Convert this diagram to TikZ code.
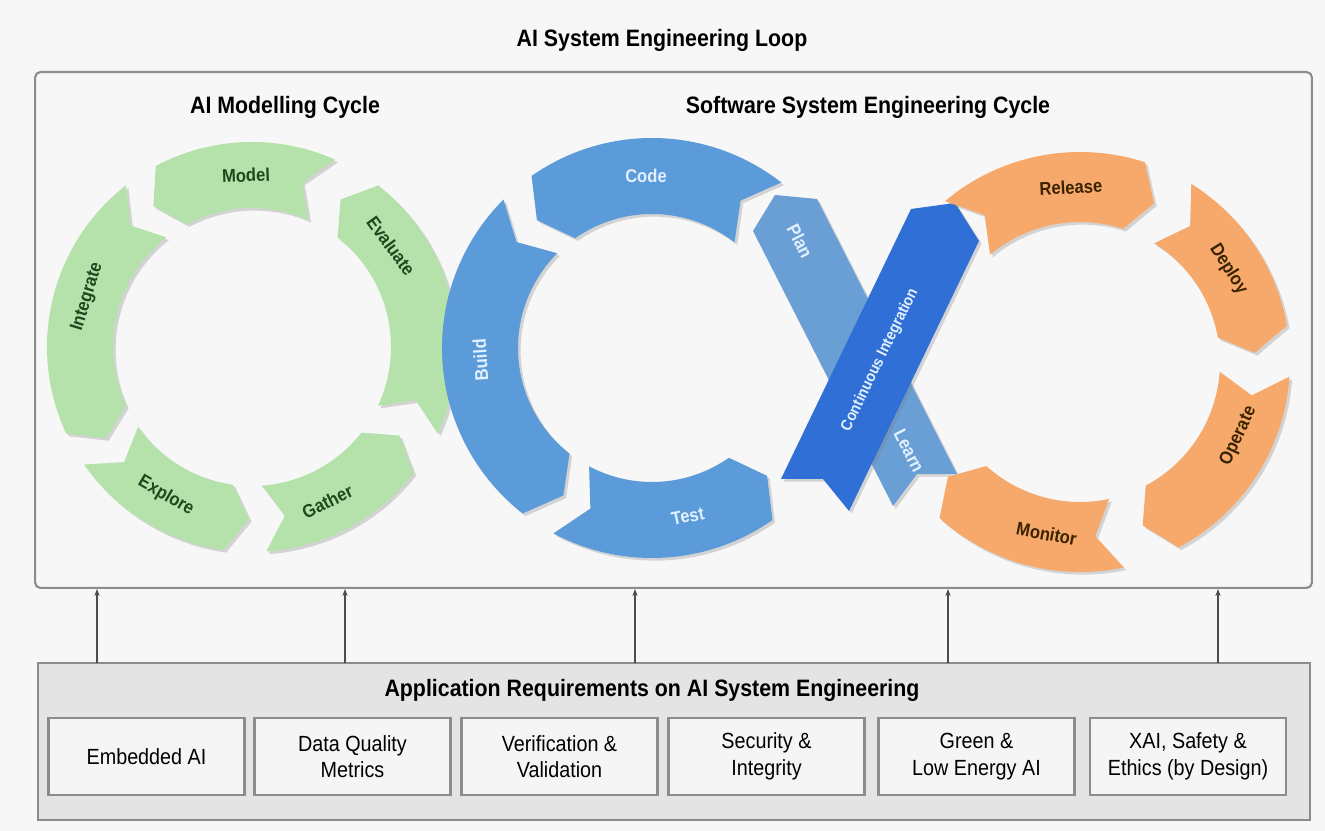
\documentclass[tikz,border=0pt]{standalone}
\usepackage{fontspec}
\setmainfont{Liberation Sans}[FakeStretch=0.9]
\usetikzlibrary{arrows.meta, calc, shadows}

\definecolor{bgcol}{HTML}{F7F7F7}
\definecolor{modgreen}{HTML}{B4E2AA}
\definecolor{modtext}{HTML}{1D4A1D}
\definecolor{swblue}{HTML}{5B9BDA}
\definecolor{swlight}{HTML}{6A9FD6}
\definecolor{swdark}{HTML}{2F6FD6}
\definecolor{swtext}{HTML}{E3F0FF}
\definecolor{opsorange}{HTML}{F6A96B}
\definecolor{opstext}{HTML}{3B2300}
\definecolor{framegray}{HTML}{8C8C8C}
\definecolor{reqgray}{HTML}{E4E4E4}
\definecolor{reqfill}{HTML}{F5F5F5}

% ring piece: center, outer r, inner r, mid r, from, to, tip offset, style
\newcommand{\ringseg}[8]{%
  \path[#8] ($(#1)+(#5:#2)$) arc[start angle=#5, end angle=#6, radius=#2]
    -- ($(#1)+(#6#7:#4)$) -- ($(#1)+(#6:#3)$)
    arc[start angle=#6, end angle=#5, radius=#3]
    -- ($(#1)+(#5#7:#4)$) -- cycle;}

\begin{document}
\begin{tikzpicture}[x=0.02cm, y=0.02cm,
    seg/.style={drop shadow={opacity=0.3, shadow xshift=1.5pt, shadow yshift=-1.5pt}},
    greenseg/.style={seg, fill=modgreen},
    blueseg/.style={seg, fill=swblue},
    orangeseg/.style={seg, fill=opsorange},
    seglabel/.style={font=\fontsize{10.5}{12}\selectfont\bfseries, inner sep=0pt},
    headline/.style={font=\fontsize{13.5}{16}\selectfont\bfseries},
    reqitem/.style={draw=framegray, line width=1.5pt, fill=reqfill, minimum width=3.92cm,
      minimum height=1.54cm, align=center, font=\fontsize{12.5}{15}\selectfont},
    reqarrow/.style={-{Stealth[length=4pt, width=3pt]}, draw=black!70, line width=0.8pt}]

	\fill[bgcol] (0,0) rectangle (1325,831);
	\useasboundingbox (0,0) rectangle (1325,831);

	% loop frame
	\node[headline] (looptitle) at (662,791) {AI System Engineering Loop};
	\node[draw=framegray, line width=1.2pt, rounded corners=3pt, minimum width=25.54cm, minimum height=10.32cm] (loop) at (673.5,501) {};
	\node[headline] (aititle) at (285,724) {AI Modelling Cycle};
	\node[headline] (swtitle) at (868,724) {Software System Engineering Cycle};

	\coordinate (gc) at (252,484);
	\coordinate (bc) at (652,483);
	\coordinate (oc) at (1080,469);

	% AI modelling cycle
	\ringseg{gc}{205}{139}{172}{-25}{52}{+7}{greenseg}
	\ringseg{gc}{205}{139}{172}{66}{118}{+7}{greenseg}
	\ringseg{gc}{205}{139}{172}{128}{205}{+7}{greenseg}
	\ringseg{gc}{205}{139}{172}{215}{262}{+7}{greenseg}
	\ringseg{gc}{205}{139}{172}{274}{322}{+7}{greenseg}
	\node[seglabel, text=modtext, rotate=-54] (levaluate) at ($(gc)+(36:172)$) {Evaluate};
	\node[seglabel, text=modtext, rotate=2] (lmodel) at ($(gc)+(92:172)$) {Model};
	\node[seglabel, text=modtext, rotate=73] (lintegrate) at ($(gc)+(163:172)$) {Integrate};
	\node[seglabel, text=modtext, rotate=-30] (lexplore) at ($(gc)+(240:172)$) {Explore};
	\node[seglabel, text=modtext, rotate=26] (lgather) at ($(gc)+(296:172)$) {Gather};

	% software cycle, left loop
	\ringseg{bc}{210}{134}{172}{52}{125}{+7}{blueseg}
	\ringseg{bc}{210}{134}{172}{135}{232}{+7}{blueseg}
	\ringseg{bc}{210}{134}{172}{242}{305}{+7}{blueseg}
	\node[seglabel, text=swtext, rotate=0] (lcode) at ($(bc)+(92:172)$) {Code};
	\node[seglabel, text=swtext, rotate=94] (lbuild) at ($(bc)+(184:172)$) {Build};
	\node[seglabel, text=swtext, rotate=12] (ltest) at ($(bc)+(282:172)$) {Test};

	% crossing
	\path[seg, fill=swlight] (775,636) -- (817,632) -- (957,357) -- (917,357) -- (893,325) -- (753,600) -- cycle;
	\node[seglabel, text=swtext, rotate=-63] (lplan) at (800,590) {Plan};
	\node[seglabel, text=swtext, rotate=-63] (llearn) at (909,380) {Learn};
	\path[seg, fill=swdark] (955,628) -- (979,590) -- (849,320) -- (823,352) -- (781,352) -- (911,622) -- cycle;
	\node[seglabel, text=swtext, rotate=64, font=\fontsize{9}{10}\selectfont\bfseries] (lci) at (880,471) {Continuous Integration};

	% software cycle, right loop
	\ringseg{oc}{210}{140}{175}{130}{72}{-7}{orangeseg}
	\ringseg{oc}{210}{140}{175}{58}{10}{-7}{orangeseg}
	\ringseg{oc}{210}{140}{175}{-4}{-62}{-7}{orangeseg}
	\ringseg{oc}{210}{140}{175}{-78}{-132}{-7}{orangeseg}
	\node[seglabel, text=opstext, rotate=3] (lrelease) at ($(oc)+(93:175)$) {Release};
	\node[seglabel, text=opstext, rotate=-58] (ldeploy) at ($(oc)+(32:175)$) {Deploy};
	\node[seglabel, text=opstext, rotate=65] (loperate) at ($(oc)+(-25:175)$) {Operate};
	\node[seglabel, text=opstext, rotate=-11] (lmonitor) at ($(oc)+(259:175)$) {Monitor};

	% requirements
	\node[fill=reqgray, draw=framegray, line width=1.2pt, minimum width=25.44cm, minimum height=3.14cm] (req) at (674,89.5) {};
	\node[headline] (reqtitle) at (652,141) {Application Requirements on AI System Engineering};
	\node[reqitem] (embedded) at (146.5,74.5) {Embedded AI};
	\node[reqitem] (quality) at (352.5,74.5) {Data Quality\\Metrics};
	\node[reqitem] (verif) at (559.5,74.5) {Verification \&\\Validation};
	\node[reqitem] (security) at (766.5,74.5) {Security \&\\Integrity};
	\node[reqitem] (green) at (976.5,74.5) {Green \&\\Low Energy AI};
	\node[reqitem] (xai) at (1188,74.5) {XAI, Safety \&\\Ethics (by Design)};

	\foreach \ax [count=\i] in {97,345,635,948,1218} {
		\coordinate (req\i) at (\ax,168);
		\draw[reqarrow] (req\i) -- (req\i |- loop.south);
	}
\end{tikzpicture}
\end{document}
